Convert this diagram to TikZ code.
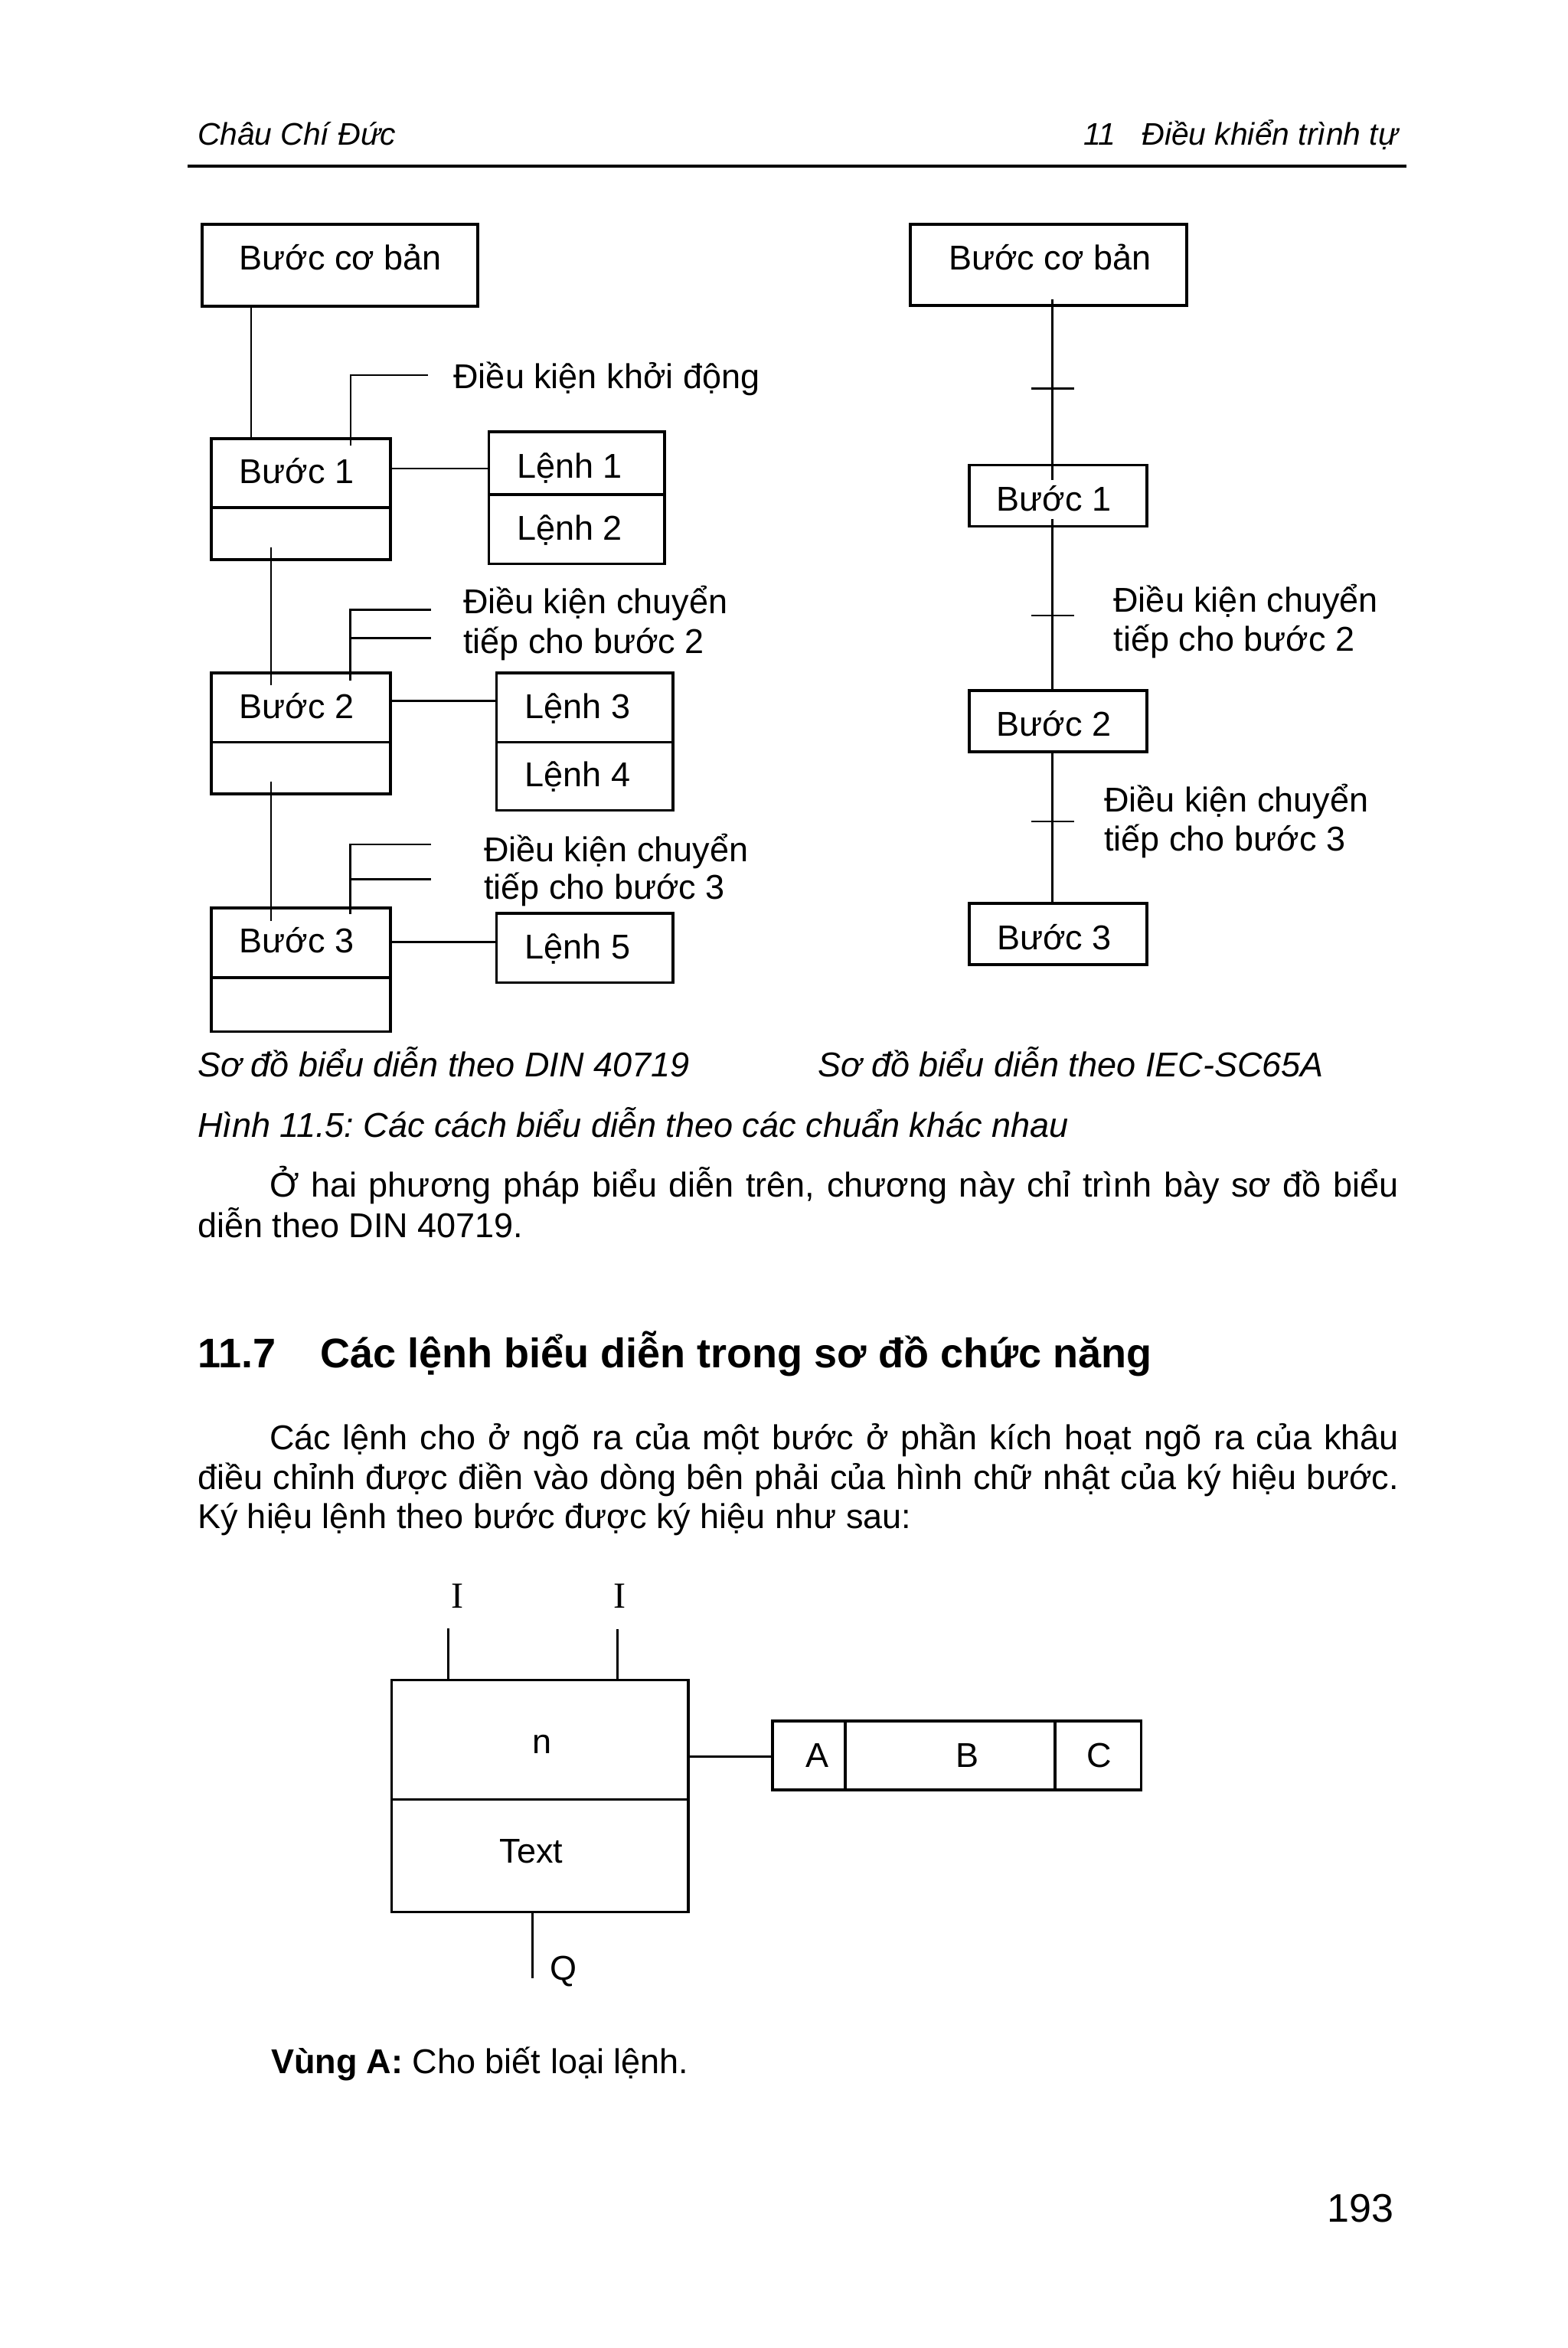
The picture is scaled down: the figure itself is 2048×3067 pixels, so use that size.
\documentclass[tikz,border=0pt]{standalone}
\usepackage{fontspec}
\setmainfont{Liberation Sans}
\newfontfamily\tnr{Liberation Serif}
\frenchspacing
\begin{document}
\begin{tikzpicture}[x=0.25pt,y=-0.25pt,
  every node/.style={inner sep=0pt, outer sep=0pt},
  ln/.style={line width=0.7pt},
  t/.style={anchor=base west, font=\fontsize{11.25}{13}\selectfont},
  ti/.style={anchor=base west, font=\fontsize{11.25}{13}\selectfont\itshape},
  hd/.style={anchor=base west, font=\fontsize{10.2}{12}\selectfont\itshape},
  hb/.style={anchor=base west, font=\fontsize{13.5}{16}\selectfont\bfseries},
  rbox/.style args={#1x#2}{draw, line width=0.8pt, anchor=north west,
    minimum width=#1*0.25pt, minimum height=#2*0.25pt},
]
\fill[white] (0,0) rectangle (2048,3067);
\useasboundingbox (0,0) rectangle (2048,3067);

% ---------- header ----------
\node[hd] (hl) at (258,189) {Châu Chí Đức};
\node[hd] (hr1) at (1415,189) {11};
\node[hd] (hr2) at (1491.7,189) {Điều khiển trình tự};
\coordinate (rl) at (245,217);
\coordinate (rr) at (1837,217);
\draw[line width=0.8pt] (rl) -- (rr);

% ---------- left diagram (DIN 40719) ----------
\node[rbox=360x107] (bcbL) at (264,293) {};
\node[t] (bcbLt) at (312.6,352) {Bước cơ bản};

\node[rbox=234x90] (s1) at (276,573) {};
\node[rbox=234x68] (s1b) at (276,663) {};
\node[t] (s1t) at (312.6,631) {Bước 1};
\node[rbox=229.5x82] (l1) at (638.5,564) {};
\node[rbox=229.5x90.5] (l2) at (638.5,646) {};
\node[t] (l1t) at (675,624) {Lệnh 1};
\node[t] (l2t) at (675,705) {Lệnh 2};

\coordinate (vL1) at (328,0);
\draw[ln] (bcbL.south -| vL1) -- (s1.north -| vL1);

\coordinate (c0a) at (458,490);
\coordinate (c0r) at (559,490);
\coordinate (c0e) at (458,582);
\draw[ln] (c0r) -- (c0a) -- (c0e);
\node[t] (c0t) at (592.5,507) {Điều kiện khởi động};

\coordinate (k1) at (0,612);
\draw[ln] (s1.east |- k1) -- (l1.west |- k1);

\coordinate (v12a) at (354,714.5);
\coordinate (v12b) at (354,895);
\draw[ln] (v12a) -- (v12b);

\coordinate (c2a) at (457.5,796.6);
\coordinate (c2r1) at (562.6,796.6);
\coordinate (c2m) at (457.5,833.5);
\coordinate (c2r2) at (562.6,833.5);
\coordinate (c2e) at (457.5,888.6);
\draw[ln] (c2r1) -- (c2a) -- (c2e);
\draw[ln] (c2m) -- (c2r2);
\node[t] (c2t1) at (605,801.6) {Điều kiện chuyển};
\node[t] (c2t2) at (605,853.4) {tiếp cho bước 2};

\node[rbox=234x90.5] (s2) at (276,879) {};
\node[rbox=234x67.5] (s2b) at (276,969.5) {};
\node[t] (s2t) at (312.7,938) {Bước 2};
\node[rbox=230.6x90.5] (l3) at (648.4,879) {};
\node[rbox=230.6x89] (l4) at (648.4,969.5) {};
\node[t] (l3t) at (685.6,938) {Lệnh 3};
\node[t] (l4t) at (685.6,1027.5) {Lệnh 4};
\coordinate (k2) at (0,915.6);
\draw[ln] (s2.east |- k2) -- (l3.west |- k2);

\coordinate (v23a) at (354,1020.5);
\coordinate (v23b) at (354,1202.5);
\draw[ln] (v23a) -- (v23b);

\coordinate (c3a) at (457.5,1103);
\coordinate (c3r1) at (562.6,1103);
\coordinate (c3m) at (457.5,1148.6);
\coordinate (c3r2) at (562.6,1148.6);
\coordinate (c3e) at (457.5,1194);
\draw[ln] (c3r1) -- (c3a) -- (c3e);
\draw[ln] (c3m) -- (c3r2);
\node[t] (c3t1) at (632,1125) {Điều kiện chuyển};
\node[t] (c3t2) at (632,1174.7) {tiếp cho bước 3};

\node[rbox=234x91] (s3) at (276,1186) {};
\node[rbox=234x70.6] (s3b) at (276,1277) {};
\node[t] (s3t) at (312.7,1244) {Bước 3};
\node[rbox=230.6x90.7] (l5) at (648.4,1193) {};
\node[t] (l5t) at (685.6,1252.6) {Lệnh 5};
\coordinate (k3) at (0,1230.7);
\draw[ln] (s3.east |- k3) -- (l5.west |- k3);

% ---------- right diagram (IEC-SC65A) ----------
\node[rbox=361x106] (bcbR) at (1189,293) {};
\node[t] (bcbRt) at (1239,352.5) {Bước cơ bản};
\node[rbox=232x80] (r1) at (1266,607.6) {};
\node[t] (r1t) at (1301.8,667) {Bước 1};
\node[rbox=232x80] (r2) at (1266,902) {};
\node[t] (r2t) at (1301.8,961.5) {Bước 2};
\node[rbox=232x80] (r3) at (1266,1180) {};
\node[t] (r3t) at (1302,1240) {Bước 3};

\coordinate (m0a) at (1374.6,390.7);
\coordinate (m0b) at (1374.6,626.7);
\coordinate (m1a) at (1374.6,677.7);
\draw[ln] (m0a) -- (m0b);
\draw[ln] (m1a) -- (r2.north -| m1a);
\draw[ln] (r2.south -| m1a) -- (r3.north -| m1a);

\coordinate (tk1l) at (1347,507.4);  \coordinate (tk1r) at (1403,507.4);
\coordinate (tk2l) at (1347,804);    \coordinate (tk2r) at (1403,804);
\coordinate (tk3l) at (1347,1073);   \coordinate (tk3r) at (1403,1073);
\draw[ln] (tk1l) -- (tk1r);
\draw[ln] (tk2l) -- (tk2r);
\draw[ln] (tk3l) -- (tk3r);

\node[t] (rc2a) at (1454.5,799) {Điều kiện chuyển};
\node[t] (rc2b) at (1454.5,850) {tiếp cho bước 2};
\node[t] (rc3a) at (1442.4,1060) {Điều kiện chuyển};
\node[t] (rc3b) at (1442.4,1111) {tiếp cho bước 3};

% ---------- captions and text ----------
\node[ti] (cap1) at (258,1406.7) {Sơ đồ biểu diễn theo DIN 40719};
\node[ti] (cap2) at (1068.6,1406.7) {Sơ đồ biểu diễn theo IEC-SC65A};
\node[ti] (cap3) at (258,1485) {Hình 11.5: Các cách biểu diễn theo các chuẩn khác nhau};

\node[t] (p1a) at (352,1563.3) {\makebox[368.75pt][s]{Ở hai phương pháp biểu diễn trên, chương này chỉ trình bày sơ đồ biểu}};
\node[t] (p1b) at (258,1616.7) {diễn theo DIN 40719.};

\node[hb] (h1) at (258,1786) {11.7};
\node[hb] (h2) at (418.6,1786) {Các lệnh biểu diễn trong sơ đồ chức năng};

\node[t] (p2a) at (352,1893.3) {\makebox[368.75pt][s]{Các lệnh cho ở ngõ ra của một bước ở phần kích hoạt ngõ ra của khâu}};
\node[t] (p2b) at (258,1945) {\makebox[392.25pt][s]{điều chỉnh được điền vào dòng bên phải của hình chữ nhật của ký hiệu bước.}};
\node[t] (p2c) at (258,1996.7) {Ký hiệu lệnh theo bước được ký hiệu như sau:};

% ---------- command symbol diagram ----------
\node[anchor=base, font=\fontsize{12}{14}\selectfont\tnr] (i1) at (597.3,2100) {I};
\node[anchor=base, font=\fontsize{12}{14}\selectfont\tnr] (i2) at (809.2,2100) {I};
\node[rbox=387.3x156.1, line width=0.85pt] (fa) at (511.7,2194.6) {};
\node[rbox=387.3x147, line width=0.85pt] (fb) at (511.7,2350.7) {};
\node[anchor=base, font=\fontsize{11.25}{13}\selectfont] (nt) at (708,2290) {n};
\node[anchor=base, font=\fontsize{11.25}{13}\selectfont] (tt) at (694,2433) {Text};
\coordinate (in1) at (585.4,2126.8);
\coordinate (in2) at (806.4,2128);
\draw[line width=0.75pt] (in1) -- (fa.north -| in1);
\draw[line width=0.75pt] (in2) -- (fa.north -| in2);
\coordinate (qe) at (695.5,2583.8);
\draw[line width=0.75pt] (fb.south -| qe) -- (qe);
\node[t] (qt) at (718.7,2586.8) {Q};

\node[rbox=94.8x90, line width=0.85pt] (ba) at (1009,2248) {};
\node[rbox=274.2x90, line width=0.85pt] (bb) at (1103.8,2248) {};
\node[rbox=112.3x90, line width=0.85pt] (bc) at (1378,2248) {};
\node[anchor=base, font=\fontsize{11.25}{13}\selectfont] (at) at (1067.3,2308) {A};
\node[anchor=base, font=\fontsize{11.25}{13}\selectfont] (bt) at (1263.8,2308) {B};
\node[anchor=base, font=\fontsize{11.25}{13}\selectfont] (ct) at (1435.6,2308) {C};
\coordinate (k4) at (0,2294);
\draw[line width=0.75pt] (fa.east |- k4) -- (ba.west |- k4);

\node[t] (va) at (354,2708) {\textbf{Vùng A:} Cho biết loại lệnh.};

\node[anchor=base east, font=\fontsize{13}{15}\selectfont] (pg) at (1820,2902) {193};
\end{tikzpicture}
\end{document}
